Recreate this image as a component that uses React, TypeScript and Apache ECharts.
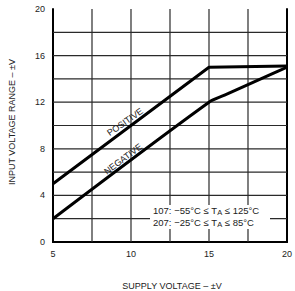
import React, { useEffect, useRef } from "react";
import * as echarts from "echarts";

const positiveX = [5, 15, 20];
const positiveY = [5, 15, 15.1];
const negativeX = [5, 15, 16, 17.5, 19, 20];
const negativeY = [2, 12, 12.6, 13.5, 14.4, 15.0];
const xTicks = [5, 10, 15, 20];
const yTicks = [0, 4, 8, 12, 16, 20];
const xGrid = [7.5, 10, 12.5, 15, 17.5];
const yGrid = [2, 4, 6, 8, 10, 12, 14, 16, 18];
const xTitle = "SUPPLY VOLTAGE – ±V";
const yTitle = "INPUT VOLTAGE RANGE – ±V";
const noteLines = [
  ["107: −55°C ≤ T", "A", " ≤ 125°C"],
  ["207: −25°C ≤ T", "A", " ≤ 85°C"],
];

const FONT = "Liberation Sans, Arial, Helvetica, sans-serif";
const X_MIN = 5, X_MAX = 20, Y_MIN = 0, Y_MAX = 20;

export default function App() {
  const ref = useRef<HTMLDivElement>(null);
  useEffect(() => {
    if (!ref.current) return;
    const chart = echarts.init(ref.current, undefined, { renderer: "svg" });
    const pos = positiveX.map((x, i) => [x, positiveY[i]]);
    const neg = negativeX.map((x, i) => [x, negativeY[i]]);
    const noteText = noteLines
      .map((l) => `{n|${l[0]}}{s|${l[1]}}{n|${l[2]}}`)
      .join("\n");
    const hidden = {
      axisLabel: { show: false },
      axisTick: { show: false },
      splitLine: { show: false },
      axisLine: { show: true, lineStyle: { color: "#000", width: 2 } },
    };
    // [value, orientation]: 0 = vertical (x value), 1 = horizontal (y value)
    const gridData = [
      ...xGrid.map((v) => [v, 0]),
      ...yGrid.map((v) => [v, 1]),
    ];
    chart.setOption({
      animation: false,
      backgroundColor: "#fff",
      grid: { left: 53, top: 9, right: 6, bottom: 49 },
      xAxis: [
        {
          type: "value",
          min: X_MIN,
          max: X_MAX,
          interval: 2.5,
          axisLine: { show: true, onZero: false, lineStyle: { color: "#000", width: 2 } },
          axisTick: { show: false },
          splitLine: { show: false },
          axisLabel: {
            color: "#222",
            fontFamily: FONT,
            fontSize: 9,
            margin: 7,
            formatter: (v: number) => (xTicks.includes(v) ? String(v) : ""),
          },
        },
        { type: "value", position: "top", min: X_MIN, max: X_MAX, interval: 2.5, ...hidden },
      ],
      yAxis: [
        {
          type: "value",
          min: Y_MIN,
          max: Y_MAX,
          interval: 2,
          axisLine: { show: true, onZero: false, lineStyle: { color: "#000", width: 2 } },
          axisTick: { show: false },
          splitLine: { show: false },
          axisLabel: {
            color: "#222",
            fontFamily: FONT,
            fontSize: 9,
            margin: 8,
            formatter: (v: number) => (yTicks.includes(v) ? String(v) : ""),
          },
        },
        { type: "value", position: "right", min: Y_MIN, max: Y_MAX, interval: 2, ...hidden },
      ],
      series: [
        {
          type: "custom",
          silent: true,
          z: 1,
          data: gridData,
          encode: { x: -1, y: -1 },
          renderItem: (params: any, api: any) => {
            const v = api.value(0);
            const o = api.value(1);
            const p1 = o === 0 ? api.coord([v, Y_MIN]) : api.coord([X_MIN, v]);
            const p2 = o === 0 ? api.coord([v, Y_MAX]) : api.coord([X_MAX, v]);
            return {
              type: "line",
              shape: { x1: p1[0], y1: p1[1], x2: p2[0], y2: p2[1] },
              style: { stroke: "#2a2a2a", lineWidth: 1.2 },
            };
          },
        },
        {
          type: "line",
          data: pos,
          symbol: "none",
          lineStyle: { color: "#000", width: 3 },
          z: 5,
        },
        {
          type: "line",
          data: neg,
          symbol: "none",
          smooth: 0.3,
          lineStyle: { color: "#000", width: 3 },
          z: 5,
        },
      ],
      graphic: [
        {
          type: "rect",
          shape: { x: 150, y: 205, width: 120, height: 24 },
          style: { fill: "#fff" },
          z: 10,
        },
        {
          type: "text",
          x: 153,
          y: 204,
          z: 11,
          style: {
            text: noteText,
            rich: {
              n: { fontFamily: FONT, fontSize: 9.5, fill: "#222", lineHeight: 12 },
              s: { fontFamily: FONT, fontSize: 7.5, fill: "#222", padding: [4, 0, 0, 0], lineHeight: 12 },
            },
          },
        },
        {
          type: "text",
          x: 125,
          y: 122,
          rotation: (35 * Math.PI) / 180,
          z: 11,
          style: {
            text: "POSITIVE",
            fontFamily: FONT,
            fontSize: 9,
            fill: "#222",
            align: "center",
            verticalAlign: "middle",
          },
        },
        {
          type: "text",
          x: 123,
          y: 159,
          rotation: (37 * Math.PI) / 180,
          z: 11,
          style: {
            text: "NEGATIVE",
            fontFamily: FONT,
            fontSize: 9,
            fill: "#222",
            align: "center",
            verticalAlign: "middle",
          },
        },
        {
          type: "text",
          x: 172,
          y: 286,
          style: {
            text: xTitle,
            fontFamily: FONT,
            fontSize: 9,
            fill: "#222",
            align: "center",
            verticalAlign: "middle",
          },
        },
        {
          type: "text",
          x: 12,
          y: 122,
          rotation: Math.PI / 2,
          style: {
            text: yTitle,
            fontFamily: FONT,
            fontSize: 9,
            fill: "#222",
            align: "center",
            verticalAlign: "middle",
          },
        },
      ],
    });
    return () => chart.dispose();
  }, []);
  return (
    <div
      ref={ref}
      style={{ position: "absolute", left: 0, top: 0, width: 295, height: 291 }}
    />
  );
}
